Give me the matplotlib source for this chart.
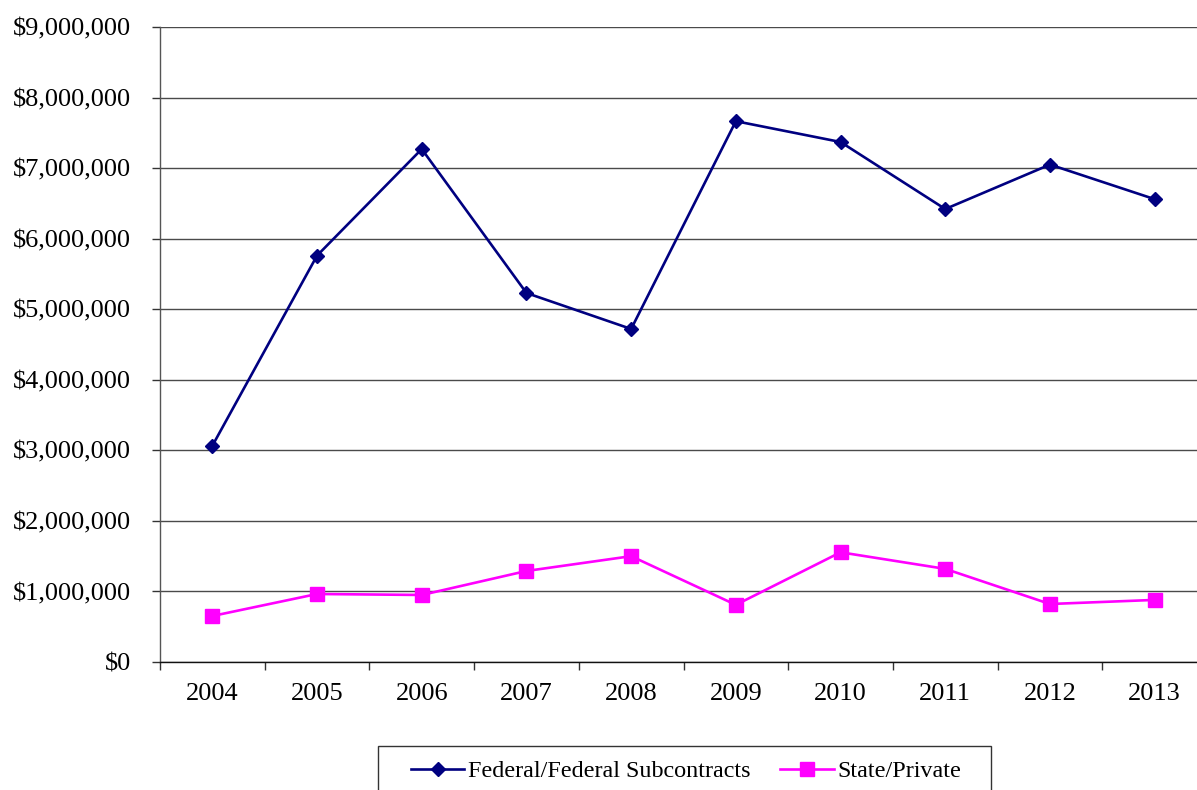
import matplotlib
matplotlib.use("Agg")
import matplotlib.pyplot as plt
from matplotlib.ticker import FuncFormatter, FixedLocator
from matplotlib.patches import Rectangle
import numpy as np

years = ["2004", "2005", "2006", "2007", "2008", "2009", "2010", "2011", "2012", "2013"]
federal = [3065000, 5760000, 7270000, 5230000, 4720000, 7665000, 7370000, 6420000, 7050000, 6560000]
state_private = [652000, 964000, 950000, 1290000, 1500000, 810000, 1555000, 1320000, 822000, 880000]
series_names = ["Federal/Federal Subcontracts", "State/Private"]

plt.rcParams['font.family'] = ['Liberation Serif', 'DejaVu Serif']

W, H = 1197, 790
fig = plt.figure(figsize=(W / 100, H / 100), dpi=100)
left_px, right_px, top_px, bottom_px = 160, 1207, 27, 662
ax = fig.add_axes([left_px / W, 1 - bottom_px / H, (right_px - left_px) / W, (bottom_px - top_px) / H])

x = np.arange(len(years))
l1, = ax.plot(x, federal, color='#000080', lw=1.9, marker='D', markersize=7,
              markerfacecolor='#000080', markeredgecolor='#000080', label=series_names[0])
l2, = ax.plot(x, state_private, color='#FF00FF', lw=1.9, marker='s', markersize=9.5,
              markerfacecolor='#FF00FF', markeredgecolor='#FF00FF', label=series_names[1])

ax.set_xlim(-0.5, len(years) - 0.5)
ax.set_ylim(0, 9000000)
ax.set_yticks(np.arange(0, 9000001, 1000000))
ax.yaxis.set_major_formatter(FuncFormatter(lambda v, p: "${:,.0f}".format(v)))
ax.yaxis.grid(True, color='#4a4a4a', lw=1.0)
ax.set_axisbelow(True)

ax.set_xticks(x)
ax.set_xticklabels(years)
ax.xaxis.set_minor_locator(FixedLocator(np.arange(-0.5, len(years), 1.0)))
ax.tick_params(axis='x', which='major', length=0, pad=15, labelsize=19)
ax.tick_params(axis='x', which='minor', length=6, width=1, color='#333333', direction='out')
ax.tick_params(axis='y', which='major', length=6, width=1, color='#333333', direction='out',
               pad=15, labelsize=19)

for s in ['top', 'right']:
    ax.spines[s].set_visible(False)
ax.spines['left'].set_color('#555555')
ax.spines['bottom'].set_color('#111111')
ax.spines['left'].set_linewidth(1.0)
ax.spines['bottom'].set_linewidth(1.0)

leg = fig.legend(handles=[l1, l2], loc='center', bbox_to_anchor=(686 / W, 1 - 771 / H),
                 ncol=2, frameon=False, fontsize=17.4, handlelength=2.2, handletextpad=0.15,
                 columnspacing=1.25, borderpad=0, borderaxespad=0)
fig.patches.append(Rectangle((378 / W, 1 - 800 / H), (991 - 378) / W, (800 - 746) / H,
                             transform=fig.transFigure, fill=False, edgecolor='#333333', lw=1.0))

fig.savefig("out.png", dpi=100)
